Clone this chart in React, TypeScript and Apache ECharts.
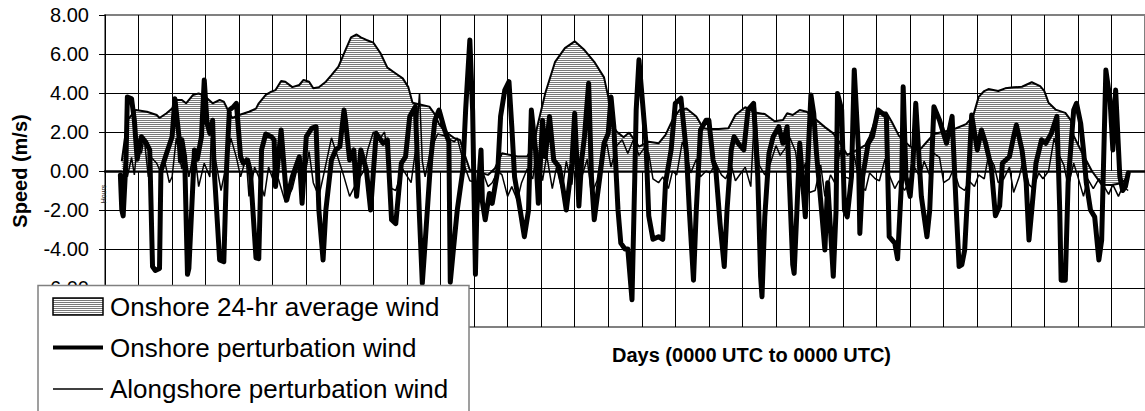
import React, { useEffect, useRef } from "react";
import * as echarts from "echarts";

const FONT = 'Arial, "Liberation Sans", sans-serif';

// x values are hours from the start of the month (31 days, gridline every 24 h)
const yTicks = { min: -8, max: 8, step: 2 };
const hourMax = 744;
const hourStep = 24;

const seriesNames = [
  "Onshore 24-hr average wind",
  "Onshore perturbation wind",
  "Alongshore perturbation wind",
];

const onshoreAverage: [number, number][] = [
  [12, 0.5], [16, 2.6], [22, 3.13], [30, 3.04], [37, 2.87], [39, 2.72], [44, 2.96], [48, 3.2],
  [51, 3.64], [55, 3.64], [58, 3.47], [63, 3.9], [67, 3.98], [72, 3.8], [77, 3.47], [82, 3.64],
  [85, 3.56], [89, 2.96], [91, 2.72], [96, 2.87], [103, 3.04], [108, 3.2], [110, 3.47], [115, 3.9],
  [119, 4.07], [122, 4.15], [126, 4.62], [129, 4.58], [134, 4.3], [139, 4.41], [142, 4.67], [146, 4.58],
  [149, 4.24], [153, 4.29], [158, 4.58], [162, 4.92], [167, 5.35], [172, 6.2], [176, 6.85], [180, 7.0],
  [183, 6.85], [187, 6.72], [192, 6.58], [197, 6.05], [202, 5.3], [208, 5.0], [213, 4.75], [217, 4.3],
  [220, 3.5], [226, 3.4], [232, 3.3], [236, 2.9], [239, 2.4], [243, 2.05], [250, 1.68], [254, 1.59],
  [257, 0.91], [261, 0.05], [266, -0.03], [274, -0.2], [279, 0.14], [284, 0.91], [295, 0.74], [302, 0.74],
  [307, 1.33], [309, 2.2], [315, 4.0], [322, 5.6], [329, 6.3], [336, 6.65], [343, 6.2], [350, 5.6],
  [357, 4.8], [360, 3.8], [362, 2.5], [366, 2.02], [371, 1.73], [375, 1.97], [382, 1.25], [389, 1.5],
  [396, 1.42], [401, 1.85], [406, 2.62], [411, 3.13], [416, 3.21], [423, 2.79], [428, 2.19], [432, 2.15],
  [439, 2.15], [446, 2.19], [451, 2.87], [458, 3.27], [465, 3.0], [472, 2.92], [479, 2.55], [485, 2.62],
  [488, 2.96], [492, 2.87], [497, 3.13], [502, 3.04], [509, 2.62], [515, 2.25], [521, 1.93], [526, 1.42],
  [531, 0.82], [538, 1.08], [544, 1.33], [547, 1.76], [551, 2.62], [554, 3.0], [559, 3.0], [563, 2.5],
  [568, 1.8], [576, 1.25], [583, 1.1], [588, 1.5], [593, 1.9], [602, 2.05], [609, 2.19], [616, 2.4],
  [621, 2.8], [625, 3.8], [629, 4.1], [632, 4.2], [639, 4.1], [644, 4.24], [650, 4.29], [656, 4.32],
  [663, 4.55], [669, 4.35], [672, 4.1], [675, 3.5], [680, 3.15], [687, 2.98], [691, 2.6], [693, 1.8],
  [698, 1.08], [706, 0.0], [713, -0.7], [720, -0.72], [727, -0.63], [732, -0.3],
];

const onshorePerturbation: [number, number][] = [
  [11, -0.2], [12, -2.0], [13, -2.3], [15, 0.5], [16, 3.8], [19, 3.7], [21, 2.6], [23, 0.6],
  [26, 1.76], [29, 1.5], [32, 1.08], [34, -4.9], [36, -5.1], [39, -5.0], [40, 0.0], [44, 0.9],
  [48, 1.76], [50, 3.7], [53, 1.7], [54, 0.5], [55, 1.6], [57, 0.7], [59, -5.3], [60, -5.0],
  [62, -2.0], [64, 1.08], [66, 0.6], [69, 1.76], [71, 4.67], [73, 2.44], [75, 1.93], [77, 2.6],
  [78, 0.2], [82, -4.56], [85, -4.65], [87, 0.2], [89, 3.13], [92, 3.3], [94, 3.47], [97, 0.73],
  [99, 0.4], [102, 0.56], [104, 0.0], [108, -4.45], [110, -4.5], [112, 1.08], [115, 1.9], [119, 1.76],
  [121, 1.6], [122, -0.8], [126, 2.1], [130, -1.5], [134, -0.3], [139, 0.73], [141, -1.66], [144, 1.76],
  [148, 2.2], [151, 2.27], [153, -2.0], [156, -4.56], [158, -2.0], [162, 0.56], [165, 1.08], [168, 1.25],
  [171, 3.13], [172, 2.6], [175, 0.56], [178, 1.08], [180, -1.3], [183, 1.08], [187, 0.05], [190, -2.0],
  [194, 1.93], [199, 1.42], [202, 1.6], [205, -2.5], [208, -2.7], [212, 0.4], [215, 0.73], [218, 2.8],
  [222, 3.3], [225, -2.4], [227, -5.76], [229, -3.7], [233, 0.56], [236, 2.6], [239, 3.13], [243, 2.1],
  [246, 1.5], [247, -5.7], [249, -4.2], [252, -2.0], [256, 0.05], [258, 3.13], [261, 6.72], [263, 3.1],
  [265, -5.3], [266, -2.0], [269, 1.08], [270, -1.6], [272, -2.5], [275, -1.15], [277, -1.66], [281, 0.05],
  [283, 2.8], [286, 4.15], [289, 4.58], [291, 2.3], [293, -0.3], [297, -2.0], [300, -3.37], [303, -2.0],
  [305, 3.13], [308, 1.08], [310, -1.66], [313, 2.6], [315, 0.73], [318, 2.8], [321, 0.56], [325, 0.2],
  [327, -0.6], [330, -2.0], [334, 0.4], [336, 2.96], [339, -1.8], [341, 0.56], [343, 1.76], [346, 4.5],
  [348, -0.3], [350, -2.5], [354, -0.3], [357, 1.42], [360, 1.93], [362, 3.8], [364, 2.27], [367, -2.0],
  [369, -3.7], [372, -4.0], [374, -4.0], [377, -6.6], [379, -0.3], [380, 3.13], [382, 5.7], [385, 3.13],
  [387, 1.42], [389, -2.3], [392, -3.5], [396, -3.37], [399, -3.5], [401, -0.6], [405, 1.08], [408, 3.47],
  [412, 3.73], [416, 0.9], [418, -2.0], [421, -5.6], [423, -2.0], [426, 2.1], [430, 2.6], [432, 2.6],
  [435, 0.56], [437, 0.05], [440, -2.7], [443, -4.9], [445, -2.0], [448, 1.08], [450, 1.76], [453, 1.42],
  [457, 1.08], [460, 3.13], [464, 3.47], [467, -0.3], [469, -5.4], [470, -6.45], [472, -2.35], [475, 0.9],
  [478, 1.76], [482, 2.27], [485, 1.42], [488, 2.27], [492, -4.8], [493, -5.25], [495, -2.0], [497, 1.42],
  [501, -2.35], [505, 3.9], [507, 2.96], [509, 0.9], [513, -2.35], [515, -4.05], [517, -0.6], [521, -5.4],
  [523, -2.0], [524, 3.98], [527, 3.13], [529, -2.0], [531, -2.35], [534, -0.3], [536, 5.18], [539, 1.08],
  [540, -3.2], [542, -0.3], [546, 1.42], [549, 1.76], [553, 3.13], [556, 2.96], [559, 2.8], [561, -3.37],
  [565, -3.7], [567, -4.5], [570, -0.3], [571, 4.32], [573, -0.3], [576, -1.3], [578, 0.4], [580, 3.47],
  [584, -1.3], [588, -3.37], [590, -2.0], [593, 3.3], [597, 2.6], [602, 1.42], [606, 2.8], [609, -2.0],
  [611, -4.9], [613, -4.8], [615, -4.05], [618, 0.05], [620, 2.87], [624, 1.08], [627, 2.1], [630, 1.42],
  [634, 0.2], [637, -2.3], [640, -1.8], [642, 0.4], [647, 0.73], [650, 1.76], [652, 2.36], [656, 1.08],
  [659, -0.6], [661, -3.54], [663, -2.0], [666, 0.4], [670, 1.6], [673, 1.42], [677, 1.93], [681, 2.8],
  [683, -2.0], [684, -5.6], [687, -5.6], [689, -0.6], [693, 3.13], [695, 3.47], [698, 2.44], [700, 1.08],
  [702, -0.6], [705, -2.0], [708, -2.35], [711, -4.56], [713, -3.54], [716, 5.18], [719, 3.64], [721, 1.08],
  [723, 4.15], [726, -0.3], [728, -1.0], [730, -0.8], [732, -0.1],
];

const alongshorePerturbation: [number, number][] = [
  [12, -0.6], [14, 0.2], [16, -0.3], [19, 0.7], [21, -0.2], [23, 1.4], [26, 0.9], [28, 1.7],
  [31, -0.3], [33, 0.7], [37, 0.4], [40, -0.1], [43, 0.4], [46, -0.6], [48, -0.3], [51, 1.7],
  [55, 0.1], [57, 1.1], [60, -0.3], [64, 1.1], [67, -0.8], [71, 0.4], [75, -0.3], [76, 1.7],
  [80, 0.2], [83, -1.0], [87, 0.4], [90, 1.7], [94, 0.7], [97, -0.3], [101, 0.7], [103, -1.3],
  [107, 0.2], [110, -0.3], [114, -1.3], [117, 0.2], [121, -0.6], [124, -0.4], [129, -1.6], [134, -0.9],
  [139, 0.6], [142, -0.6], [146, 1.0], [149, -0.6], [153, -1.3], [157, 0.0], [162, 1.7], [167, 0.6],
  [171, -0.3], [175, -1.3], [180, -0.6], [185, 0.0], [188, 1.1], [192, 2.0], [197, 1.7], [200, 2.0],
  [205, -0.9], [208, -1.0], [213, 0.1], [219, -0.6], [222, 1.0], [225, 4.0], [227, 0.5], [229, -0.3],
  [233, 1.1], [238, 1.9], [243, 1.8], [247, 1.6], [250, 1.5], [252, 1.7], [257, 0.3], [261, -0.5],
  [266, -0.6], [271, -0.2], [274, -0.8], [277, -0.6], [281, 0.0], [284, -0.2], [288, -1.3], [291, -0.8],
  [295, -1.5], [298, -0.6], [302, 0.1], [306, -0.4], [309, 1.2], [313, -0.5], [316, 0.8], [320, -0.9],
  [323, 0.2], [327, -1.0], [330, 0.5], [334, -0.7], [337, 1.5], [341, -0.3], [345, 0.6], [348, -1.2],
  [352, -0.5], [355, 0.8], [359, 1.4], [362, 0.2], [366, 1.3], [370, 1.6], [374, 0.9], [378, 1.6],
  [382, 0.8], [386, 1.2], [389, 0.9], [392, -0.4], [396, -0.6], [399, -0.3], [403, -0.9], [406, 0.0],
  [409, -0.2], [413, 1.5], [416, 0.9], [419, -0.1], [423, 0.6], [426, -0.3], [430, 0.0], [433, -0.1],
  [437, 0.4], [441, -0.2], [444, -0.4], [448, 0.3], [451, -0.5], [455, -0.1], [458, 0.2], [462, -0.8],
  [465, 3.5], [468, 0.3], [472, -0.2], [476, 0.4], [480, 1.3], [483, 0.8], [487, 1.2], [490, 1.7],
  [494, 1.0], [497, -0.6], [501, 0.4], [504, -1.1], [508, -1.0], [512, 0.3], [515, -1.3], [519, -0.2],
  [522, -0.6], [526, 1.1], [529, -0.3], [533, -0.4], [536, 0.8], [540, -0.7], [544, -1.0], [547, -0.1],
  [551, -0.4], [554, -0.5], [558, 0.6], [561, -0.2], [565, -0.9], [568, -0.5], [572, -1.0], [576, -0.4],
  [579, 0.2], [583, -0.3], [586, 0.5], [590, -0.2], [593, 0.9], [597, 0.7], [600, -0.6], [604, -0.4],
  [607, 0.1], [611, -0.8], [615, -1.0], [618, -0.5], [622, -0.8], [625, -0.2], [629, -0.4], [632, 0.8],
  [636, 0.3], [639, -0.6], [643, -0.4], [647, 0.2], [650, -1.1], [654, -0.3], [657, 0.6], [661, -0.7],
  [664, -0.9], [668, -0.1], [671, -0.4], [675, 0.0], [679, 1.7], [682, 0.9], [686, 0.3], [689, -0.8],
  [693, 0.4], [696, -0.3], [700, -1.3], [703, -0.4], [707, -0.9], [711, -0.4], [714, -0.7], [718, -1.2],
  [721, -0.7], [725, -1.3], [728, -0.8], [732, -1.0],
];

function makeHatch(): HTMLCanvasElement {
  const c = document.createElement("canvas");
  c.width = 4;
  c.height = 2;
  const ctx = c.getContext("2d")!;
  ctx.fillStyle = "#ffffff";
  ctx.fillRect(0, 0, 4, 2);
  ctx.fillStyle = "#7a7a7a";
  ctx.fillRect(0, 0, 4, 1);
  return c;
}

export default function App() {
  const ref = useRef<HTMLDivElement>(null);

  useEffect(() => {
    if (!ref.current) return;
    const chart = echarts.init(ref.current, undefined, { renderer: "svg" });
    const hatch = { image: makeHatch(), repeat: "repeat" } as any;

    const legendTexts = seriesNames.map((name, i) => ({
      type: "text",
      z: 102,
      x: 110,
      y: [306.5, 347.5, 389][i],
      style: {
        text: name,
        font: `26px ${FONT}`,
        fill: "#000",
        textAlign: "left",
        textVerticalAlign: "middle",
        align: "left",
        verticalAlign: "middle",
      },
    }));

    const option: any = {
      animation: false,
      backgroundColor: "#ffffff",
      grid: {
        left: 105,
        top: 15,
        right: -7,
        bottom: 84,
        show: true,
        borderColor: "#808080",
        borderWidth: 2,
        backgroundColor: "transparent",
      },
      xAxis: {
        type: "value",
        min: 0,
        max: hourMax,
        interval: hourStep,
        axisLabel: { show: false },
        axisTick: { show: false },
        axisLine: { show: true, onZero: true, lineStyle: { color: "#000", width: 2.5 } },
        splitLine: { show: true, showMinLine: false, lineStyle: { color: "#000", width: 1 } },
      },
      yAxis: {
        type: "value",
        min: yTicks.min,
        max: yTicks.max,
        interval: yTicks.step,
        axisLabel: {
          formatter: (v: number) => v.toFixed(2),
          fontSize: 20,
          fontFamily: FONT,
          color: "#000",
          margin: 16,
        },
        axisTick: { show: true, length: 6, lineStyle: { color: "#000", width: 1 } },
        axisLine: { show: true, lineStyle: { color: "#000", width: 1 } },
        splitLine: {
          show: true,
          showMinLine: false,
          showMaxLine: false,
          lineStyle: { color: "#000", width: 1 },
        },
      },
      series: [
        {
          name: seriesNames[0],
          type: "line",
          data: onshoreAverage,
          symbol: "none",
          lineStyle: { color: "#000", width: 2 },
          areaStyle: { color: hatch, opacity: 1 },
          z: 2,
        },
        {
          name: seriesNames[2],
          type: "line",
          data: alongshorePerturbation,
          symbol: "none",
          lineStyle: { color: "#000", width: 1.5 },
          z: 3,
        },
        {
          name: seriesNames[1],
          type: "line",
          data: onshorePerturbation,
          symbol: "none",
          lineStyle: { color: "#000", width: 5, join: "round", cap: "round" },
          z: 4,
        },
      ],
      graphic: [
        {
          type: "text",
          x: 20,
          y: 171,
          rotation: Math.PI / 2,
          style: {
            text: "Speed (m/s)",
            font: `bold 20px ${FONT}`,
            fill: "#000",
            textAlign: "center",
            textVerticalAlign: "middle",
            align: "center",
            verticalAlign: "middle",
          },
        },
        {
          type: "text",
          x: 103,
          y: 194,
          rotation: Math.PI / 2,
          z: 50,
          style: {
            text: "Hours",
            font: `7px ${FONT}`,
            fill: "#222",
            textAlign: "center",
            textVerticalAlign: "middle",
            align: "center",
            verticalAlign: "middle",
          },
        },
        {
          type: "text",
          x: 612,
          y: 355,
          style: {
            text: "Days (0000 UTC to 0000 UTC)",
            font: `bold 20px ${FONT}`,
            fill: "#000",
            textAlign: "left",
            textVerticalAlign: "middle",
            align: "left",
            verticalAlign: "middle",
          },
        },
        {
          type: "rect",
          z: 100,
          shape: { x: 38, y: 285.5, width: 431, height: 140 },
          style: { fill: "#fff", stroke: "#808080", lineWidth: 1.5 },
        },
        {
          type: "rect",
          z: 101,
          shape: { x: 53, y: 298, width: 50, height: 17 },
          style: { fill: hatch, stroke: "#000", lineWidth: 1.5 },
        },
        {
          type: "line",
          z: 101,
          shape: { x1: 53, y1: 347.5, x2: 103, y2: 347.5 },
          style: { stroke: "#000", lineWidth: 4 },
        },
        {
          type: "line",
          z: 101,
          shape: { x1: 53, y1: 389, x2: 103, y2: 389 },
          style: { stroke: "#000", lineWidth: 1.5 },
        },
        ...legendTexts,
      ],
    };

    chart.setOption(option);
    return () => chart.dispose();
  }, []);

  return (
    <div
      ref={ref}
      style={{ position: "fixed", left: 0, top: 0, width: 1145, height: 411, background: "#fff" }}
    />
  );
}
